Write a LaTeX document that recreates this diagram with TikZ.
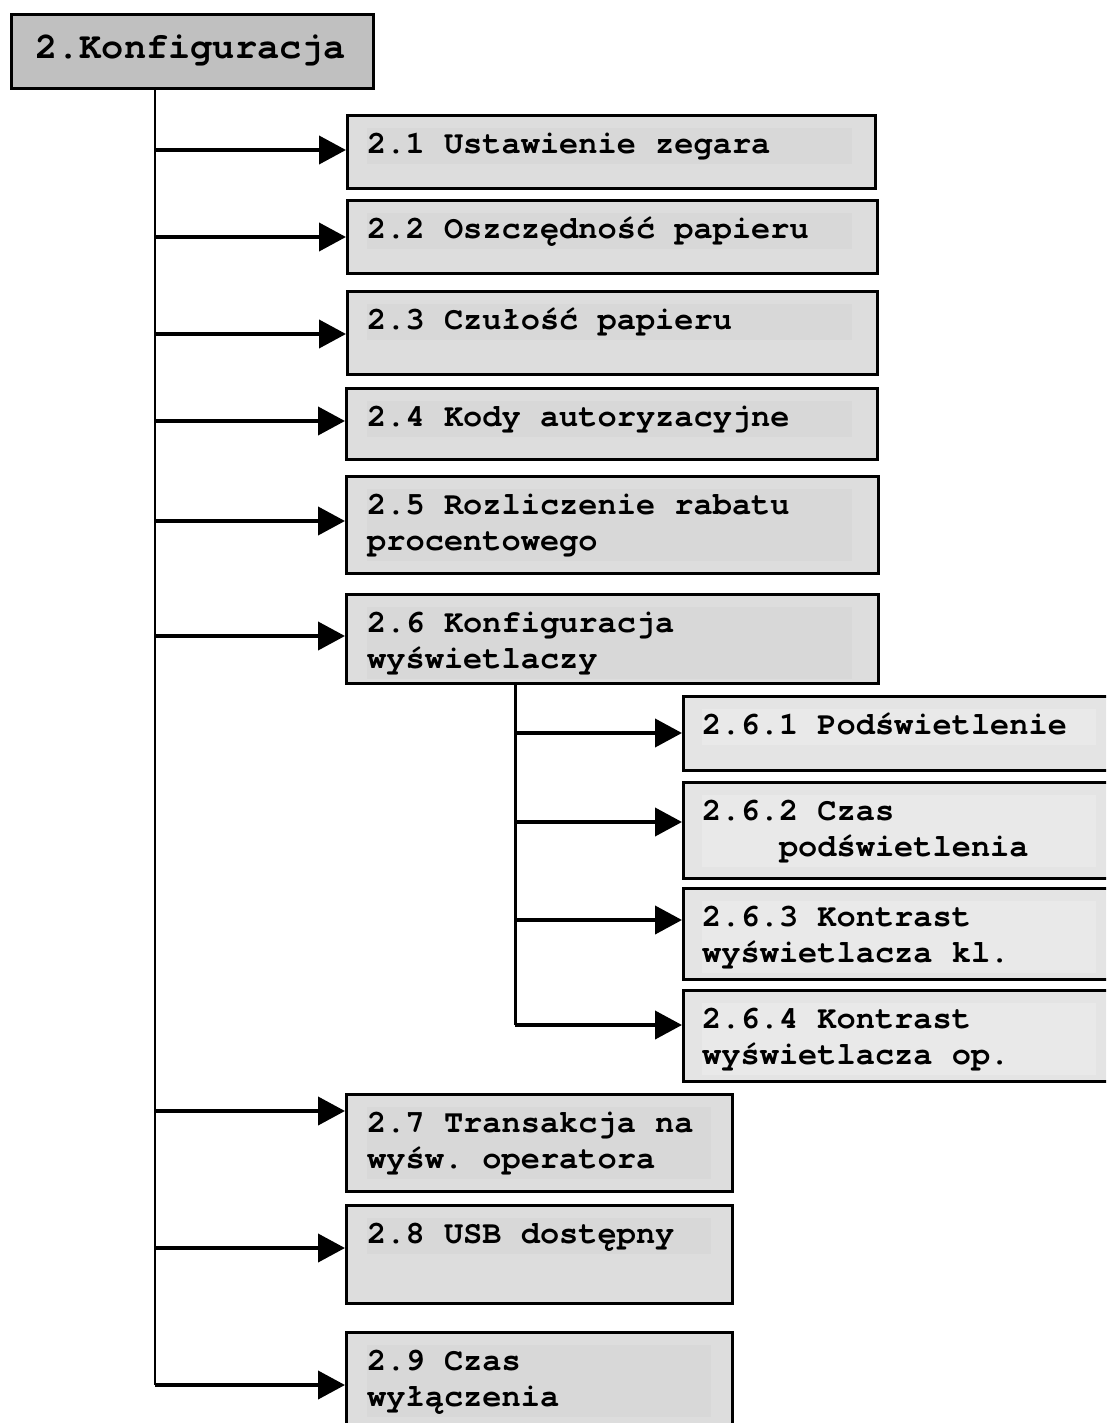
\documentclass[tikz,border=0pt]{standalone}
\usepackage{fontspec}
\setmonofont{texgyrecursor}[Extension=.otf, UprightFont=*-regular, BoldFont=*-bold, Ligatures=NoCommon]
\usetikzlibrary{arrows.meta}

\definecolor{headgray}{HTML}{C0C0C0}
\definecolor{boxgray}{HTML}{DDDDDD}
\definecolor{markgray}{HTML}{D8D8D8}
\definecolor{subgray}{HTML}{E4E4E4}
\definecolor{submark}{HTML}{E9E9E9}

\newcommand\menuspacing{\frenchspacing\spaceskip=0.6em\relax}

\tikzset{
  menubox/.style={draw, line width=3pt, fill=boxgray, anchor=north west, inner sep=0pt},
  subbox/.style={menubox, fill=subgray},
  menutext/.style={anchor=north west, inner sep=0pt, fill=markgray, align=left,
    font=\ttfamily\bfseries\fontsize{32}{36}\selectfont,
    execute at begin node=\menuspacing\strut, execute at end node=\strut},
  subtext/.style={menutext, fill=submark},
  branch/.style={line width=4pt, -{Triangle[length=27pt,width=28pt]}},
  trunk/.style={line width=2pt}
}

\begin{document}
\begin{tikzpicture}[x=1pt,y=1pt]
\useasboundingbox (0,0) rectangle (1106,-1423);
\clip (0,0) rectangle (1106,-1423);

% Top menu
\node[menubox, fill=headgray, minimum width=362pt, minimum height=74pt] (head) at (10,-13) {};
\node[anchor=west, inner sep=0pt, font=\ttfamily\bfseries\fontsize{37}{40}\selectfont]
  (headtext) at (35,-50) {2.Konfiguracja};

% Main items
\node[menubox, minimum width=528pt, minimum height=73pt] (b21) at (346,-114) {};
\node[menutext, text width=485pt] (t21) at (367,-128) {2.1 Ustawienie zegara};

\node[menubox, minimum width=530pt, minimum height=73pt] (b22) at (346,-199) {};
\node[menutext, text width=485pt] (t22) at (367,-213) {2.2 Oszczędność papieru};

\node[menubox, minimum width=530pt, minimum height=83pt] (b23) at (346,-290) {};
\node[menutext, text width=485pt] (t23) at (367,-304) {2.3 Czułość papieru};

\node[menubox, minimum width=531pt, minimum height=71pt] (b24) at (345,-387) {};
\node[menutext, text width=485pt] (t24) at (367,-401) {2.4 Kody autoryzacyjne};

\node[menubox, minimum width=532pt, minimum height=97pt] (b25) at (345,-475) {};
\node[menutext, text width=485pt] (t25) at (367,-489) {2.5 Rozliczenie rabatu\\procentowego};

\node[menubox, minimum width=532pt, minimum height=89pt] (b26) at (345,-593) {};
\node[menutext, text width=485pt] (t26) at (367,-607) {2.6 Konfiguracja\\wyświetlaczy};

% Display submenu
\node[subbox, minimum width=450pt, minimum height=74pt] (b261) at (682,-695) {};
\node[subtext, text width=394pt] (t261) at (702,-709) {2.6.1 Podświetlenie};

\node[subbox, minimum width=450pt, minimum height=96pt] (b262) at (682,-781) {};
\node[subtext, text width=394pt] (t262) at (702,-795) {2.6.2 Czas\\\ \ \ \ podświetlenia};

\node[subbox, minimum width=450pt, minimum height=91pt] (b263) at (682,-887) {};
\node[subtext, text width=394pt] (t263) at (702,-901) {2.6.3 Kontrast\\wyświetlacza kl.};

\node[subbox, minimum width=450pt, minimum height=91pt] (b264) at (682,-989) {};
\node[subtext, text width=394pt] (t264) at (702,-1003) {2.6.4 Kontrast\\wyświetlacza op.};

% Remaining items
\node[menubox, minimum width=386pt, minimum height=97pt] (b27) at (345,-1093) {};
\node[menutext, text width=344pt] (t27) at (367,-1107) {2.7 Transakcja na\\wyśw. operatora};

\node[menubox, minimum width=386pt, minimum height=98pt] (b28) at (345,-1204) {};
\node[menutext, text width=344pt] (t28) at (367,-1218) {2.8 USB dostępny};

\node[menubox, minimum width=386pt, minimum height=120pt] (b29) at (345,-1331) {};
\node[menutext, text width=344pt] (t29) at (367,-1345) {2.9 Czas\\wyłączenia};

% Junctions on the trunks
\coordinate (j1) at (155,-150);
\coordinate (j2) at (155,-237);
\coordinate (j3) at (155,-334);
\coordinate (j4) at (155,-421);
\coordinate (j5) at (155,-521);
\coordinate (j6) at (155,-636);
\coordinate (j7) at (155,-1111);
\coordinate (j8) at (155,-1248);
\coordinate (j9) at (155,-1385);
\coordinate (s0) at (515,-682);
\coordinate (s1) at (515,-733);
\coordinate (s2) at (515,-822);
\coordinate (s3) at (515,-920);
\coordinate (s4) at (515,-1025);

% Trunks
\draw[trunk] (head.south -| j1) -- (j9);
\draw[line width=3pt] (s0) -- (s4);

% Branches
\draw[branch] (j1) -- (j1 -| b21.west);
\draw[branch] (j2) -- (j2 -| b22.west);
\draw[branch] (j3) -- (j3 -| b23.west);
\draw[branch] (j4) -- (j4 -| b24.west);
\draw[branch] (j5) -- (j5 -| b25.west);
\draw[branch] (j6) -- (j6 -| b26.west);
\draw[branch] (s1) -- (s1 -| b261.west);
\draw[branch] (s2) -- (s2 -| b262.west);
\draw[branch] (s3) -- (s3 -| b263.west);
\draw[branch] (s4) -- (s4 -| b264.west);
\draw[branch] (j7) -- (j7 -| b27.west);
\draw[branch] (j8) -- (j8 -| b28.west);
\draw[branch] (j9) -- (j9 -| b29.west);

\end{tikzpicture}
\end{document}
